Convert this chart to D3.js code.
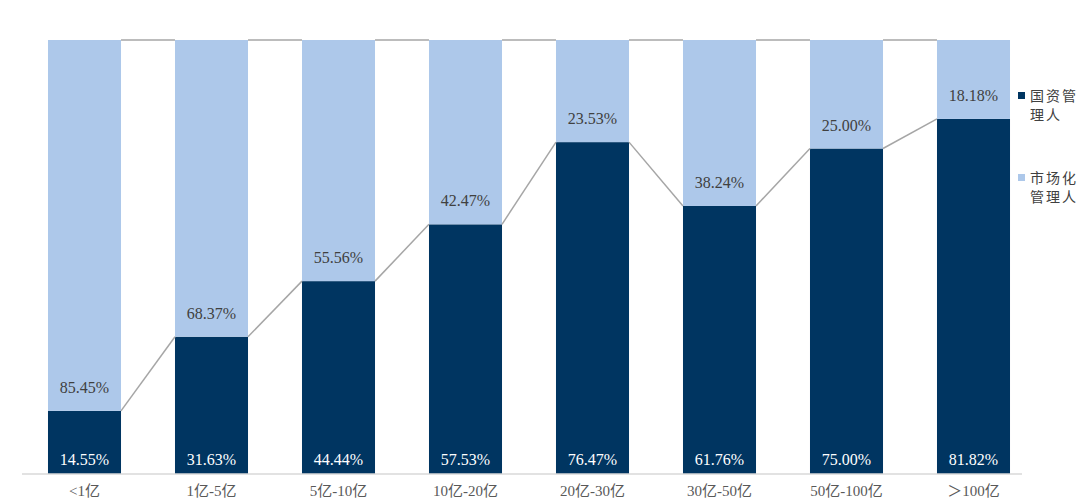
<!DOCTYPE html>
<html><head><meta charset="utf-8">
<script src="https://cdn.jsdelivr.net/npm/d3@7"></script>
<style>body{margin:0;background:#fff}svg{display:block}</style>
</head><body><svg id="c" width="1080" height="500"></svg>
<script>
const categories = ["<1亿","1亿-5亿","5亿-10亿","10亿-20亿","20亿-30亿","30亿-50亿","50亿-100亿","＞100亿"];
const stateOwned = [14.55,31.63,44.44,57.53,76.47,61.76,75.00,81.82];
const marketBased = [85.45,68.37,55.56,42.47,23.53,38.24,25.00,18.18];
const seriesNames = [["国资管","理人"],["市场化","管理人"]];
const colors = ["#003561","#adc8ea"];

const svg = d3.select("#c");
const x = d3.scaleBand().domain(categories).range([21, 1037]).paddingInner(0.425).paddingOuter(0.2125);
const y = d3.scaleLinear().domain([0,100]).range([474, 40]);
const serif = "'Liberation Serif','Times New Roman','Noto Sans CJK SC',serif";

const data = categories.map((c,i)=>({c, a: stateOwned[i], b: marketBased[i]}));
const bw = x.bandwidth();

// bars
svg.selectAll(".a").data(data).enter().append("rect")
  .attr("x", d=>x(d.c)).attr("width", bw)
  .attr("y", d=>y(d.a)).attr("height", d=>y(0)-y(d.a)).attr("fill", colors[0]);
svg.selectAll(".b").data(data).enter().append("rect")
  .attr("x", d=>x(d.c)).attr("width", bw)
  .attr("y", d=>y(d.a+d.b)).attr("height", d=>y(d.a)-y(d.a+d.b)).attr("fill", colors[1]);

// series lines
for (let i=0;i<data.length-1;i++){
  const d0=data[i], d1=data[i+1];
  svg.append("line").attr("x1", x(d0.c)+bw).attr("x2", x(d1.c))
    .attr("y1", y(d0.a)).attr("y2", y(d1.a)).attr("stroke","#a6a6a6").attr("stroke-width",1.5);
  svg.append("line").attr("x1", x(d0.c)+bw).attr("x2", x(d1.c))
    .attr("y1", y(d0.a+d0.b)).attr("y2", y(d1.a+d1.b)).attr("stroke","#a6a6a6").attr("stroke-width",1.5);
}

// axis
const xAxis = d3.axisBottom(x).tickSize(0).tickPadding(11);
const ax = svg.append("g").attr("transform","translate(0,474)").call(xAxis);
ax.select(".domain").attr("d","M22,0H1022").attr("stroke","#d9d9d9").attr("stroke-width",1.5);
ax.selectAll("text").attr("font-family", serif).attr("font-size",15).attr("fill","#595959");

// labels
svg.selectAll(".la").data(data).enter().append("text")
  .attr("x", d=>x(d.c)+bw/2).attr("y", 465).attr("text-anchor","middle")
  .attr("font-family", serif).attr("font-size",16).attr("fill","#fff")
  .text(d=>d.a.toFixed(2)+"%");
svg.selectAll(".lb").data(data).enter().append("text")
  .attr("x", d=>x(d.c)+bw/2).attr("y", d=>y(d.a)-18).attr("text-anchor","middle")
  .attr("font-family", serif).attr("font-size",16).attr("fill","#404040")
  .text(d=>d.b.toFixed(2)+"%");

// legend
const lg = svg.append("g");
[0,1].forEach(i=>{
  const ly = i===0 ? 101 : 183;
  lg.append("rect").attr("x",1018).attr("y",ly-9).attr("width",7).attr("height",7).attr("fill",colors[i]);
  seriesNames[i].forEach((t,j)=>{
    lg.append("text").attr("x",1030).attr("y",ly+j*19).attr("font-family", serif)
      .attr("font-size",14).attr("fill","#404040").attr("letter-spacing",2).text(t);
  });
});
</script></body></html>
